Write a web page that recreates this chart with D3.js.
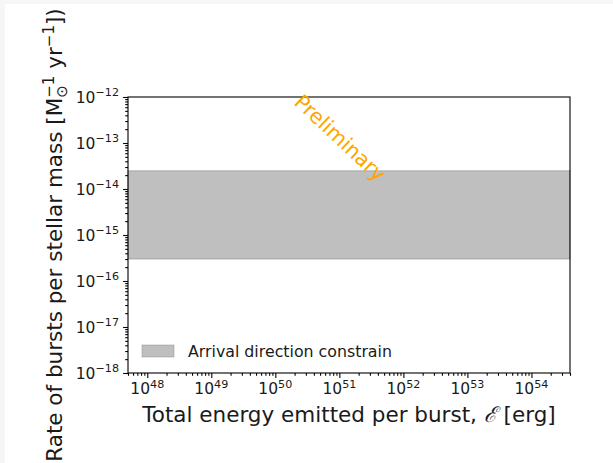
<!DOCTYPE html>
<html><head><meta charset="utf-8">
<script src="https://d3js.org/d3.v7.min.js"></script>
<style>
html,body{margin:0;padding:0;background:#f6f6f6;}
svg{display:block;}
text{font-family:"DejaVu Sans",sans-serif;fill:#1a1a1a;}
</style></head>
<body>
<script>
// ---- data ----
const xDomain = [5e47, 4e54];
const yDomain = [1e-18, 1e-12];
const xTickExps = [48, 49, 50, 51, 52, 53, 54];
const yTickExps = [-12, -13, -14, -15, -16, -17, -18];
const bandX = [5e47, 4e54];
const bandLower = [3e-16, 3e-16];
const bandUpper = [2.5e-14, 2.5e-14];
const legendLabel = "Arrival direction constrain";
const watermark = "Preliminary";

const W = 613, H = 463;
const m = {left: 128, right: 570, top: 97, bottom: 373};

const svg = d3.select("body").append("svg").attr("width", W).attr("height", H);
svg.append("rect").attr("x", 5).attr("y", 4).attr("width", W - 5).attr("height", H - 4).attr("fill", "#fff");

const x = d3.scaleLog().domain(xDomain).range([m.left, m.right]);
const y = d3.scaleLog().domain(yDomain).range([m.bottom, m.top]);

// band
const band = bandX.map((d, i) => ({x: d, lo: bandLower[i], hi: bandUpper[i]}));
svg.append("path").datum(band)
  .attr("d", d3.area().x(d => x(d.x)).y0(d => y(d.lo)).y1(d => y(d.hi)))
  .attr("fill", "#808080").attr("fill-opacity", 0.5)
  .attr("stroke", "#808080").attr("stroke-opacity", 0.35).attr("stroke-width", 1.5);

// minor ticks
function minors(dom) {
  const out = [];
  const a = Math.floor(Math.log10(dom[0])), b = Math.ceil(Math.log10(dom[1]));
  for (let e = a; e <= b; e++) for (let k = 2; k <= 9; k++) {
    const v = k * Math.pow(10, e);
    if (v >= dom[0] && v <= dom[1]) out.push(v);
  }
  return out;
}
const xMaj = xTickExps.map(e => Math.pow(10, e));
const yMaj = yTickExps.map(e => Math.pow(10, e));

const gx = svg.append("g").attr("transform", `translate(0,${m.bottom})`);
gx.call(d3.axisBottom(x).tickValues(minors(xDomain)).tickSize(2.8).tickFormat(""));
gx.append("g").call(d3.axisBottom(x).tickValues(xMaj).tickSize(4.9).tickFormat(""));
const gy = svg.append("g").attr("transform", `translate(${m.left},0)`);
gy.call(d3.axisLeft(y).tickValues(minors(yDomain)).tickSize(2.8).tickFormat(""));
gy.append("g").call(d3.axisLeft(y).tickValues(yMaj).tickSize(4.9).tickFormat(""));
svg.selectAll(".domain").remove();
svg.selectAll(".tick line").attr("stroke", "#000").attr("stroke-width", 1.1);

// frame
svg.append("rect").attr("x", m.left).attr("y", m.top)
  .attr("width", m.right - m.left).attr("height", m.bottom - m.top)
  .attr("fill", "none").attr("stroke", "#000").attr("stroke-width", 1.1);

// tick labels
const fsT = 15.5;
xTickExps.forEach(e => {
  const t = svg.append("text").attr("x", x(Math.pow(10, e))).attr("y", m.bottom + 21)
    .attr("text-anchor", "middle").attr("font-size", fsT);
  t.append("tspan").text("10");
  t.append("tspan").attr("dy", -6.5).attr("font-size", fsT * 0.72).text(String(e));
});
yTickExps.forEach(e => {
  const t = svg.append("text").attr("x", m.left - 9).attr("y", y(Math.pow(10, e)) + 5.5)
    .attr("text-anchor", "end").attr("font-size", fsT);
  t.append("tspan").text("10");
  t.append("tspan").attr("dy", -6.5).attr("font-size", fsT * 0.72).text("\u2212" + Math.abs(e));
});

// axis labels
const fsL = 21.5;
const xl = svg.append("text").attr("x", (m.left + m.right) / 2).attr("y", 422)
  .attr("text-anchor", "middle").attr("font-size", fsL);
xl.append("tspan").text("Total energy emitted per burst, ");
xl.append("tspan").attr("font-style", "italic").attr("font-family", "DejaVu Serif").text("\u2130");
xl.append("tspan").text(" [erg]");

const yl = svg.append("text").attr("transform", `translate(62,${(m.top + m.bottom) / 2}) rotate(-90)`)
  .attr("text-anchor", "middle").attr("font-size", fsL);
yl.append("tspan").text("Rate of bursts per stellar mass [M");
const sup1 = yl.append("tspan").attr("dy", -8).attr("font-size", fsL * 0.7).text("\u22121");
const sub1 = yl.append("tspan").attr("dy", 13).attr("font-size", fsL * 0.7).text("\u2299");
yl.append("tspan").attr("dy", -5).text(" yr");
yl.append("tspan").attr("dy", -8).attr("font-size", fsL * 0.7).text("\u22121");
yl.append("tspan").attr("dy", 8).text("])");
const w1 = sup1.node().getComputedTextLength();
sub1.attr("dx", -w1);
const ws = sub1.node().getComputedTextLength();
yl.selectAll("tspan").filter((d, i) => i === 3).attr("dx", Math.max(0, w1 - ws));

// legend
const lg = svg.append("g");
lg.append("rect").attr("x", 142).attr("y", 345).attr("width", 32).attr("height", 12)
  .attr("fill", "#808080").attr("fill-opacity", 0.5)
  .attr("stroke", "#808080").attr("stroke-opacity", 0.35).attr("stroke-width", 1.2);
lg.append("text").attr("x", 188).attr("y", 357).attr("font-size", 15.8).text(legendLabel);

// watermark
svg.append("text").attr("transform", "translate(340,138) rotate(43)")
  .attr("text-anchor", "middle").attr("dominant-baseline", "central")
  .attr("font-size", 20.5).style("fill", "#FFA500").text(watermark);
</script>
</body></html>
